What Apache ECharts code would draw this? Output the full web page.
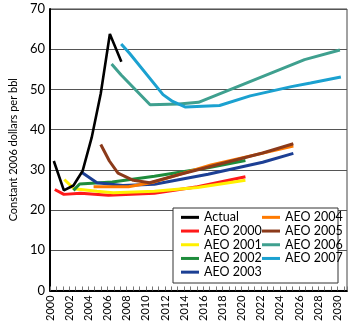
<!DOCTYPE html>
<html><head><meta charset="utf-8">
<script src="https://cdn.jsdelivr.net/npm/echarts@6/dist/echarts.min.js"></script>
<style>html,body{margin:0;padding:0;background:#fff}#c{width:350px;height:324px}</style>
</head><body><div id="c"></div>
<script>
const seriesNames = ['Actual','AEO 2000','AEO 2001','AEO 2002','AEO 2003','AEO 2004','AEO 2005','AEO 2006','AEO 2007'];
const xTickLabels = [2000,2002,2004,2006,2008,2010,2012,2014,2016,2018,2020,2022,2024,2026,2028,2030];
const yTickLabels = [0,10,20,30,40,50,60,70];

const actualYears = [2000.4, 2001.45, 2002.45, 2003.4, 2004.35, 2005.3, 2006.25, 2007.45];
const actualValues = [32.2, 24.9, 26.1, 29.7, 38.0, 49.0, 63.8, 56.9];

const aeo2000Years = [2000.5, 2001.45, 2003.2, 2006.1, 2010.9, 2015.4, 2020.4];
const aeo2000Values = [25.1, 23.9, 24.2, 23.7, 24.2, 25.8, 28.3];

const aeo2001Years = [2001.5, 2002.5, 2004.9, 2006.6, 2010.9, 2015.4, 2020.4];
const aeo2001Values = [27.6, 25.3, 24.7, 24.3, 24.7, 25.6, 27.4];

const aeo2002Years = [2002.45, 2003.1, 2006.5, 2010.9, 2016.5, 2020.4];
const aeo2002Values = [24.9, 26.5, 27.0, 28.4, 30.5, 32.3];

const aeo2003Years = [2003.3, 2004.9, 2007.6, 2010.9, 2016.5, 2022.2, 2025.4];
const aeo2003Values = [29.4, 26.8, 26.1, 26.4, 28.9, 31.9, 34.1];

const aeo2004Years = [2004.55, 2008.2, 2010.9, 2016.8, 2025.4];
const aeo2004Values = [25.8, 25.8, 27.0, 31.2, 35.9];

const aeo2005Years = [2005.3, 2006.2, 2007.1, 2008.7, 2010.4, 2013.6, 2022.2, 2025.4];
const aeo2005Values = [36.3, 32.2, 29.2, 27.4, 26.8, 28.9, 34.2, 36.5];

const aeo2006Years = [2006.43, 2007.43, 2010.45, 2013.47, 2015.5, 2026.57, 2030.26];
const aeo2006Values = [56.3, 53.6, 46.2, 46.4, 46.8, 57.4, 59.8];

const aeo2007Years = [2007.43, 2008.3, 2011.8, 2012.8, 2014.15, 2017.7, 2020.9, 2025.2, 2027.2, 2030.36];
const aeo2007Values = [61.3, 59.0, 48.7, 47.0, 45.6, 46.0, 48.4, 50.7, 51.6, 53.1];

const colors = {
  'Actual':'#000000','AEO 2000':'#ff1a1a','AEO 2001':'#fff000','AEO 2002':'#1e8c3c',
  'AEO 2003':'#1c3f94','AEO 2004':'#ff7a00','AEO 2005':'#8b3a1a','AEO 2006':'#3fa08f','AEO 2007':'#1ba1d0'
};
const sets = {
  'Actual':[actualYears, actualValues],
  'AEO 2000':[aeo2000Years, aeo2000Values],
  'AEO 2001':[aeo2001Years, aeo2001Values],
  'AEO 2002':[aeo2002Years, aeo2002Values],
  'AEO 2003':[aeo2003Years, aeo2003Values],
  'AEO 2004':[aeo2004Years, aeo2004Values],
  'AEO 2005':[aeo2005Years, aeo2005Values],
  'AEO 2006':[aeo2006Years, aeo2006Values],
  'AEO 2007':[aeo2007Years, aeo2007Values]
};
const drawOrder = ['AEO 2000','AEO 2001','AEO 2002','AEO 2003','AEO 2004','AEO 2005','AEO 2006','AEO 2007','Actual'];
const series = drawOrder.map(n => ({
  name: n, type: 'line', symbol: 'none', showSymbol: false,
  data: sets[n][0].map((y, i) => [y, sets[n][1][i]]),
  lineStyle: {color: colors[n], width: n === 'Actual' ? 2.6 : 3},
  itemStyle: {color: colors[n]},
  z: 2
}));
const font = 'Lato';
const legendText = {fontFamily: font, fontSize: 12.5, color: '#000', lineHeight: 13.7};
const chart = echarts.init(document.getElementById('c'), null, {renderer: 'canvas'});
chart.setOption({
  animation: false,
  grid: {left: 39, right: 3, top: 9, bottom: 32.5, show: true, borderColor: '#444', borderWidth: 1},
  xAxis: {
    type: 'value', min: 2000, max: 2031, interval: 2,
    axisLine: {show: true, lineStyle: {color: '#000', width: 2}},
    axisTick: {show: true, inside: true, length: 4, lineStyle: {color: '#777'}},
    minorTick: {show: true, splitNumber: 3, length: 4, lineStyle: {color: '#777'}},
    splitLine: {show: false},
    axisLabel: {rotate: 90, fontFamily: font, fontSize: 11, color: '#000', margin: 5, showMaxLabel: false,
      formatter: v => xTickLabels.indexOf(v) >= 0 ? String(v) : ''}
  },
  yAxis: {
    type: 'value', min: 0, max: 70, interval: 10,
    name: 'Constant 2006 dollars per bbl', nameLocation: 'middle', nameGap: 27,
    nameTextStyle: {fontFamily: font, fontSize: 11, color: '#000'},
    axisLine: {show: true, lineStyle: {color: '#000', width: 2}},
    axisTick: {show: false},
    splitLine: {show: true, lineStyle: {color: '#555', width: 1}},
    axisLabel: {fontFamily: font, fontSize: 13, color: '#000', margin: 5,
      formatter: v => yTickLabels.indexOf(v) >= 0 ? String(v) : ''}
  },
  legend: [
    {data: seriesNames.slice(0, 5), orient: 'vertical', left: 181, top: 210.5, padding: 0, itemGap: 0,
      itemWidth: 18, itemHeight: 3, icon: 'rect', textStyle: legendText, z: 5},
    {data: seriesNames.slice(5), orient: 'vertical', left: 262, top: 210.5, padding: 0, itemGap: 0,
      itemWidth: 18, itemHeight: 3, icon: 'rect', textStyle: legendText, z: 5}
  ],
  graphic: [{type: 'rect', shape: {x: 173, y: 208, width: 165, height: 75},
    style: {fill: '#fff', stroke: '#333', lineWidth: 1}, z: 3}],
  series: series
});
</script></body></html>
